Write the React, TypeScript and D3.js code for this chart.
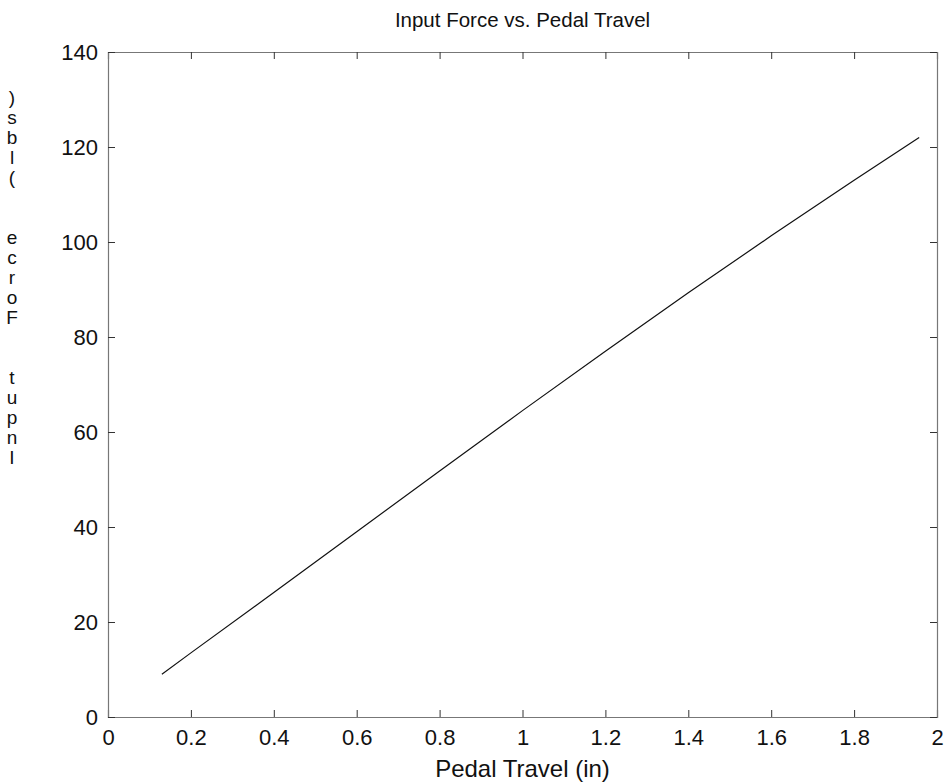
import React, { useEffect, useRef } from 'react';
import * as d3 from 'd3';

// pedal travel (in) and input force (lbs)
const travel = [0.13, 0.2, 0.4, 0.6, 0.8, 1.0, 1.2, 1.4, 1.6, 1.8, 1.957];
const force = [9.0, 13.5, 26.2, 39.0, 51.8, 64.5, 77.0, 89.3, 101.3, 113.0, 122.0];

const xTicks = [0, 0.2, 0.4, 0.6, 0.8, 1, 1.2, 1.4, 1.6, 1.8, 2];
const yTicks = [0, 20, 40, 60, 80, 100, 120, 140];

// the y label is printed as stacked letters, reversed
const yLabelChars = ')sbl(  ecroF  tupnI'.split('');

const App = () => {
  const svgRef = useRef<SVGSVGElement>(null);

  useEffect(() => {
    const svg = d3.select(svgRef.current);
    svg.selectAll('*').remove();

    const width = 948;
    const height = 784;
    const margin = { top: 52, right: 11, bottom: 67, left: 108 };
    const font = '"Liberation Sans", Arial, sans-serif';

    const x = d3.scaleLinear().domain([0, 2]).range([margin.left, width - margin.right]);
    const y = d3.scaleLinear().domain([0, 140]).range([height - margin.bottom, margin.top]);

    const axisColor = '#777';
    const tickLen = 7;

    // ticks on all four sides, pointing inward
    const bottom = svg.append('g')
      .attr('transform', `translate(0,${y(0)})`)
      .call(d3.axisBottom(x).tickValues(xTicks).tickSize(-tickLen).tickPadding(12).tickFormat(d => `${d}`));
    const top = svg.append('g')
      .attr('transform', `translate(0,${y(140)})`)
      .call(d3.axisTop(x).tickValues(xTicks).tickSize(-tickLen).tickFormat(() => ''));
    const left = svg.append('g')
      .attr('transform', `translate(${x(0)},0)`)
      .call(d3.axisLeft(y).tickValues(yTicks).tickSize(-tickLen).tickPadding(10).tickFormat(d => `${d}`));
    const right = svg.append('g')
      .attr('transform', `translate(${x(2)},0)`)
      .call(d3.axisRight(y).tickValues(yTicks).tickSize(-tickLen).tickFormat(() => ''));

    [bottom, top, left, right].forEach(g => {
      g.select('.domain').attr('stroke', axisColor).attr('stroke-width', 1.2);
      g.selectAll('.tick line').attr('stroke', '#333');
      g.selectAll('.tick text')
        .attr('fill', '#111')
        .attr('font-family', font)
        .attr('font-size', 22);
    });

    svg.append('path')
      .datum(travel.map((t, i) => [t, force[i]] as [number, number]))
      .attr('fill', 'none')
      .attr('stroke', '#111')
      .attr('stroke-width', 1.2)
      .attr('d', d3.line<[number, number]>().x(d => x(d[0])).y(d => y(d[1])));

    svg.append('text')
      .attr('x', (x(0) + x(2)) / 2)
      .attr('y', 27)
      .attr('text-anchor', 'middle')
      .attr('font-family', font)
      .attr('font-size', 20.5)
      .attr('fill', '#111')
      .text('Input Force vs. Pedal Travel');

    svg.append('text')
      .attr('x', (x(0) + x(2)) / 2)
      .attr('y', 777)
      .attr('text-anchor', 'middle')
      .attr('font-family', font)
      .attr('font-size', 24)
      .attr('fill', '#111')
      .text('Pedal Travel (in)');

    svg.append('g')
      .selectAll('text')
      .data(yLabelChars)
      .join('text')
      .attr('x', 12)
      .attr('y', (_, i) => 104 + i * 20)
      .attr('text-anchor', 'middle')
      .attr('font-family', font)
      .attr('font-size', 19)
      .attr('fill', '#111')
      .text(d => d);
  }, []);

  return (
    <svg
      ref={svgRef}
      width={948}
      height={784}
      style={{ position: 'absolute', left: 0, top: 0, background: '#fff' }}
    />
  );
};

export default App;
